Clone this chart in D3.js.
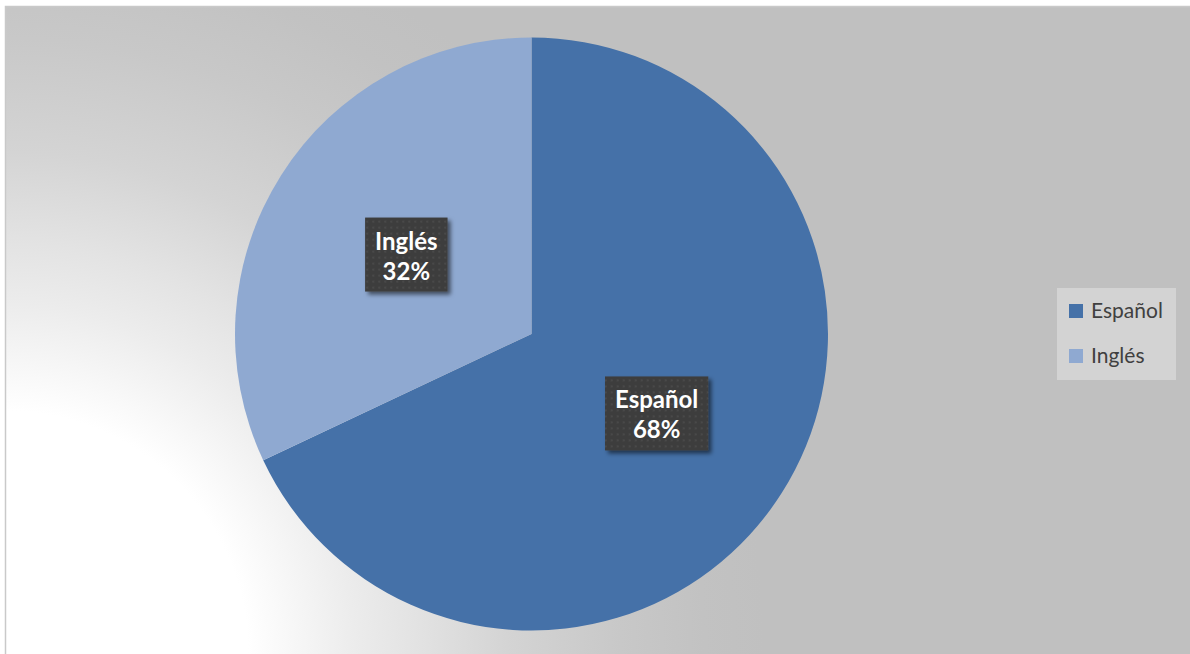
<!DOCTYPE html>
<html>
<head>
<meta charset="utf-8">
<script src="https://cdn.jsdelivr.net/npm/d3@7"></script>
<style>
  html, body { margin: 0; padding: 0; background: #ffffff; }
  svg { display: block; }
</style>
</head>
<body>
<svg id="chart" width="1190" height="654"></svg>
<script>
// Language share data
const categories = ["Español", "Inglés"];
const values = [68, 32];
const colors = ["#4571a8", "#8fa9d1"];

const W = 1190, H = 654;
const svg = d3.select("#chart");
const defs = svg.append("defs");

// Chart area background: white at the lower-left corner fading to grey
const bg = defs.append("radialGradient")
  .attr("id", "bgGrad")
  .attr("gradientUnits", "userSpaceOnUse")
  .attr("cx", 5).attr("cy", H).attr("r", 760);
[[0, "#ffffff"], [0.32, "#ffffff"], [0.46, "#ececec"], [0.54, "#e3e3e3"], [0.66, "#d4d4d4"], [0.81, "#c8c8c8"], [0.92, "#c2c2c2"], [1, "#c0c0c0"]]
  .forEach(([o, c]) => bg.append("stop").attr("offset", o).attr("stop-color", c));

// Dotted texture for the data label boxes
const pat = defs.append("pattern")
  .attr("id", "dots")
  .attr("patternUnits", "userSpaceOnUse")
  .attr("width", 6).attr("height", 6);
pat.append("rect").attr("width", 6).attr("height", 6).attr("fill", "#3d3d3d");
pat.append("rect").attr("x", 2).attr("y", 2).attr("width", 2).attr("height", 2).attr("fill", "#4a4a4a");

// Soft shadow under the label boxes
const f = defs.append("filter").attr("id", "shadow")
  .attr("x", "-20%").attr("y", "-20%").attr("width", "150%").attr("height", "150%");
f.append("feDropShadow")
  .attr("dx", 3).attr("dy", 3).attr("stdDeviation", 2)
  .attr("flood-color", "#000").attr("flood-opacity", 0.55);

// Chart area with a thin border
svg.append("rect")
  .attr("x", 5.5).attr("y", 6.5)
  .attr("width", W).attr("height", H)
  .attr("fill", "url(#bgGrad)")
  .attr("stroke", "#c9c9c9").attr("stroke-width", 1.5);

// Pie
const cx = 531.5, cy = 334, R = 296.5;
const total = d3.sum(values);
const pie = d3.pie().sort(null).value(d => d.value);
const arcs = pie(categories.map((c, i) => ({ name: c, value: values[i], color: colors[i] })));
const arc = d3.arc().innerRadius(0).outerRadius(R);

const g = svg.append("g").attr("transform", `translate(${cx},${cy})`);
g.selectAll("path.slice")
  .data(arcs)
  .join("path")
  .attr("class", "slice")
  .attr("d", arc)
  .attr("fill", d => d.data.color);

// Data labels: category name and percentage on a dark box at each slice centroid
const fontFamily = "Lato, 'Open Sans', sans-serif";
const labels = g.selectAll("g.label")
  .data(arcs)
  .join("g")
  .attr("class", "label")
  .attr("transform", d => `translate(${arc.centroid(d)})`);

labels.each(function (d) {
  const lg = d3.select(this);
  const box = lg.append("rect").attr("fill", "url(#dots)").attr("filter", "url(#shadow)");
  const t = lg.append("text")
    .attr("text-anchor", "middle")
    .attr("fill", "#ffffff")
    .attr("font-family", fontFamily)
    .attr("font-weight", "bold")
    .attr("font-size", 24);
  t.append("tspan").attr("x", 0).attr("y", -5).text(d.data.name);
  t.append("tspan").attr("x", 0).attr("y", 25).text(Math.round(d.data.value / total * 100) + "%");
  const w = t.node().getBBox().width;
  box.attr("x", -w / 2 - 10).attr("y", -37).attr("width", w + 20).attr("height", 74);
});

// Legend
const lgX = 1057, lgY = 288;
const legend = svg.append("g");
legend.append("rect")
  .attr("x", lgX).attr("y", lgY).attr("width", 119).attr("height", 92)
  .attr("fill", "#d3d3d3");
const items = legend.selectAll("g.item")
  .data(categories)
  .join("g")
  .attr("class", "item")
  .attr("transform", (d, i) => `translate(${lgX + 12},${lgY + 16 + i * 45})`);
items.append("rect")
  .attr("width", 14).attr("height", 14)
  .attr("fill", (d, i) => colors[i]);
items.append("text")
  .attr("x", 22).attr("y", 14)
  .attr("fill", "#404040")
  .attr("font-family", fontFamily)
  .attr("font-size", 21)
  .text(d => d);
</script>
</body>
</html>
